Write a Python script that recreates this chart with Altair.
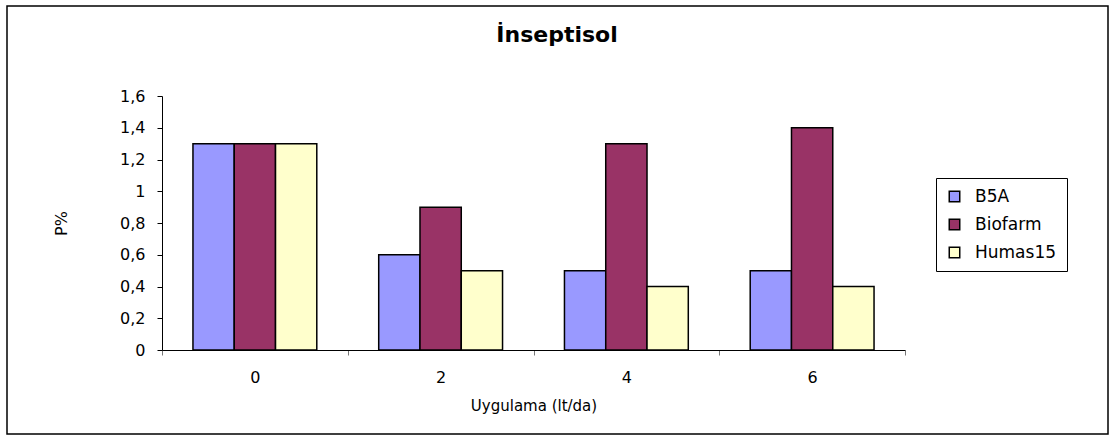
import altair as alt
import pandas as pd

# Doses (lt/da), products and measured P% per dose
doses = ["0", "2", "4", "6"]
products = ["B5A", "Biofarm", "Humas15"]
b5a = [1.3, 0.6, 0.5, 0.5]
biofarm = [1.3, 0.9, 1.3, 1.4]
humas15 = [1.3, 0.5, 0.4, 0.4]
colors = ["#9999FF", "#993366", "#FFFFCC"]
chart_title = "İnseptisol"

rows = []
for series, vals in zip(products, [b5a, biofarm, humas15]):
    for d, v in zip(doses, vals):
        rows.append({"Uygulama": d, "Ürün": series, "P": v})
df = pd.DataFrame(rows)

FONT = "DejaVu Sans"
W, H = 743, 254

bars = alt.Chart(df).mark_bar(stroke="black", strokeWidth=1.5).encode(
    x=alt.X(
        "Uygulama:N",
        sort=doses,
        scale=alt.Scale(paddingInner=0, paddingOuter=0),
        axis=alt.Axis(
            title="Uygulama (lt/da)",
            labelAngle=0,
            tickBand="extent",
            tickSize=5,
            tickColor="#777777",
            domainColor="black",
            labelPadding=14,
            titlePadding=13,
            labelFontSize=16,
            titleFontSize=15,
            labelFont=FONT,
            titleFont=FONT,
            titleFontWeight="normal",
            labelColor="black",
            titleColor="black",
        ),
    ),
    xOffset=alt.XOffset(
        "Ürün:N",
        sort=products,
        scale=alt.Scale(paddingInner=0, paddingOuter=0.75),
    ),
    y=alt.Y(
        "P:Q",
        scale=alt.Scale(domain=[0, 1.6], nice=False),
        axis=alt.Axis(
            title="P%",
            values=[0, 0.2, 0.4, 0.6, 0.8, 1.0, 1.2, 1.4, 1.6],
            labelExpr="replace(format(datum.value, '.1~f'), '.', ',')",
            grid=False,
            tickSize=5,
            tickColor="black",
            domainColor="black",
            labelPadding=12,
            titlePadding=50,
            labelFontSize=16,
            titleFontSize=16,
            labelFont=FONT,
            titleFont=FONT,
            titleFontWeight="normal",
            labelColor="black",
            titleColor="black",
        ),
    ),
    color=alt.Color(
        "Ürün:N",
        sort=products,
        scale=alt.Scale(domain=products, range=colors),
        legend=alt.Legend(
            title=None,
            orient="none",
            legendX=774,
            legendY=82,
            symbolType="square",
            symbolSize=110,
            symbolStrokeColor="black",
            symbolStrokeWidth=1.5,
            labelFontSize=17,
            labelFont=FONT,
            labelColor="black",
            labelOffset=12,
            rowPadding=10,
            padding=10,
            strokeColor="black",
            fillColor="white",
            cornerRadius=0,
        ),
    ),
)

# Border around the whole figure
frame = alt.Chart(pd.DataFrame({"k": [0]})).mark_rect(
    fill=None, stroke="black", strokeWidth=1.5
).encode(
    x=alt.value(-155), x2=alt.value(946), y=alt.value(-90), y2=alt.value(338)
)

# Figure title, centred on the whole frame
title = alt.Chart(pd.DataFrame({"t": [chart_title]})).mark_text(
    font=FONT, fontSize=22, fontWeight="bold", color="black", baseline="middle"
).encode(
    text="t:N", x=alt.value(395), y=alt.value(-61)
)

chart = alt.layer(frame, bars, title).properties(
    width=W,
    height=H,
    padding={"left": 162, "top": 96, "right": 206, "bottom": 89},
    autosize=alt.AutoSizeParams(type="none"),
).configure(background="white").configure_view(stroke=None)

chart.save("out.html", embed_options={"renderer": "svg", "actions": False})
